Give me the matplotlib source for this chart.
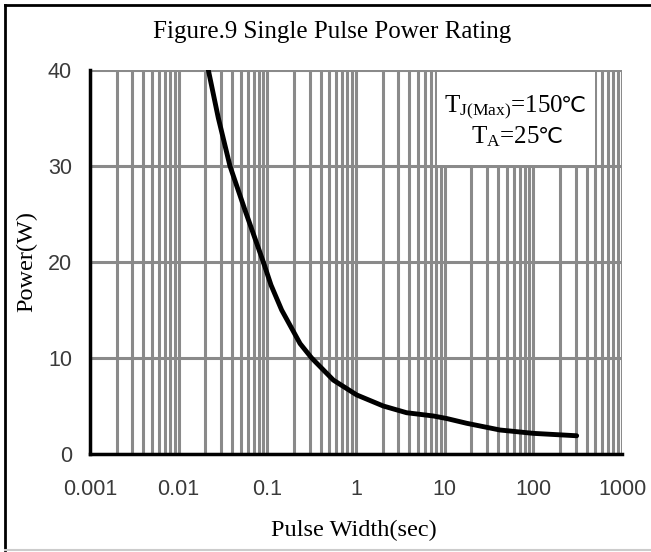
import matplotlib
import matplotlib.pyplot as plt
from matplotlib.lines import Line2D
from matplotlib.patches import Rectangle
import numpy as np

matplotlib.use('Agg')

plt.rcParams['mathtext.fontset'] = 'custom'
plt.rcParams['mathtext.rm'] = 'Liberation Serif'
plt.rcParams['mathtext.it'] = 'Liberation Serif:italic'

# curve
pulse_width = [0.0216, 0.028, 0.0379, 0.056, 0.0901, 0.11, 0.145, 0.234, 0.316,
               0.555, 1.02, 2.03, 3.72, 7.45, 10.5, 17.7, 42, 100, 308]
power = [40, 35, 30, 25.4, 20, 17.6, 15, 11.5, 10,
         7.7, 6.15, 5.0, 4.3, 3.96, 3.7, 3.2, 2.5, 2.15, 1.9]

x_ticks = [0.001, 0.01, 0.1, 1, 10, 100, 1000]
x_tick_labels = ['0.001', '0.01', '0.1', '1', '10', '100', '1000']
y_ticks = [0, 10, 20, 30, 40]

W, H = 651, 552
fig = plt.figure(figsize=(W / 100, H / 100), dpi=100)
ax = fig.add_axes([90 / W, 1 - 454 / H, (622 - 90) / W, (454 - 70) / H])

ax.set_xscale('log')
ax.set_xlim(0.001, 1000)
ax.set_ylim(0, 40)

grid_col = '#8a8a8a'
ax.grid(True, which='major', axis='both', color=grid_col, lw=2.2)
ax.grid(True, which='minor', axis='x', color=grid_col, lw=2.2)
ax.set_axisbelow(True)

ax.plot(pulse_width, power, color='black', lw=3.5, solid_capstyle='round',
        solid_joinstyle='round', zorder=3)

# legend box
ax.add_patch(Rectangle((437 / W, 1 - 165 / H), (595 - 437) / W, (165 - 72) / H,
                       transform=fig.transFigure, facecolor='white', edgecolor='none', zorder=2.5))
serif = ['Liberation Serif', 'DejaVu Serif']
sans = ['Liberation Sans', 'DejaVu Sans']
fig.text(563 / W, 1 - 112 / H, r'T$_{\mathregular{J(Max)}}$=150', fontsize=18, family=serif,
         ha='right', va='baseline')
fig.text(561 / W, 1 - 112 / H, '℃', fontsize=16, family=sans, ha='left', va='baseline')
fig.text(540 / W, 1 - 143 / H, r'T$_{\mathregular{A}}$=25', fontsize=18, family=serif,
         ha='right', va='baseline')
fig.text(538 / W, 1 - 143 / H, '℃', fontsize=16, family=sans, ha='left', va='baseline')

for s in ['top', 'right']:
    ax.spines[s].set_visible(False)
for s in ['left', 'bottom']:
    ax.spines[s].set_linewidth(2.5)
    ax.spines[s].set_color('black')

ax.set_xticks(x_ticks)
ax.set_xticklabels(x_tick_labels)
ax.set_yticks(y_ticks)
ax.tick_params(which='both', length=0, labelsize=15.5, labelcolor='#3a3a3a')
ax.tick_params(axis='x', pad=18)
ax.tick_params(axis='y', pad=13)
for lab in ax.get_xticklabels() + ax.get_yticklabels():
    lab.set_family('Liberation Sans')

fig.text(332 / W, 1 - 32 / H, 'Figure.9 Single Pulse Power Rating', fontsize=18,
         family='Liberation Serif', ha='center', va='center')
fig.text(27 / W, 1 - 262 / H, 'Power(W)', fontsize=17.5, family='Liberation Serif',
         rotation=90, ha='center', va='center')
fig.text(354 / W, 1 - 530 / H, 'Pulse Width(sec)', fontsize=17.5, family='Liberation Serif',
         ha='center', va='center')

# frame round the figure
fig.add_artist(Line2D([5 / W, 5 / W], [1 - 550 / H, 1 - 5 / H], transform=fig.transFigure,
                      color='black', lw=2))
fig.add_artist(Line2D([5 / W, 1], [1 - 5 / H, 1 - 5 / H], transform=fig.transFigure,
                      color='black', lw=2))
fig.add_artist(Line2D([5 / W, 1], [1 - 550 / H, 1 - 550 / H], transform=fig.transFigure,
                      color='#cccccc', lw=1.5))

fig.savefig('out.png', dpi=100)
